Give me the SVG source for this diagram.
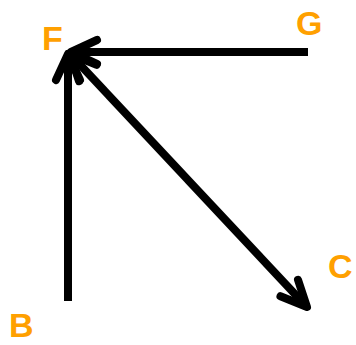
<svg xmlns="http://www.w3.org/2000/svg" width="356" height="345" viewBox="0 0 356 345">
<style>
.lbl{font-family:"Liberation Sans",Arial,sans-serif;font-weight:bold;font-size:34px;fill:#FFA000}
.edge{stroke:#000;stroke-width:8;fill:none}
.head{stroke:#000;stroke-width:8;fill:none;stroke-linecap:round;stroke-linejoin:round}
</style>
<defs>
<marker id="arr" markerUnits="userSpaceOnUse" viewBox="-40 -20 48 40" refX="0" refY="0" markerWidth="48" markerHeight="40" orient="auto-start-reverse" overflow="visible">
<path class="head" d="M-26,-12 L0,0 L-26,12"/>
</marker>
</defs>
<rect width="356" height="345" fill="#fff"/>
<g id="connectors">
<path id="B-F" class="edge" d="M68,301 L68,54" marker-end="url(#arr)"/>
<path id="G-F" class="edge" d="M308,52 L71,52" marker-end="url(#arr)"/>
<path id="F-C" class="edge" d="M70,54 L307,307" marker-start="url(#arr)" marker-end="url(#arr)"/>
</g>
<g id="F"><text class="lbl" x="42" y="50">F</text></g>
<g id="G"><text class="lbl" x="296" y="35">G</text></g>
<g id="C"><text class="lbl" x="328" y="278">C</text></g>
<g id="B"><text class="lbl" x="9" y="337">B</text></g>
</svg>
